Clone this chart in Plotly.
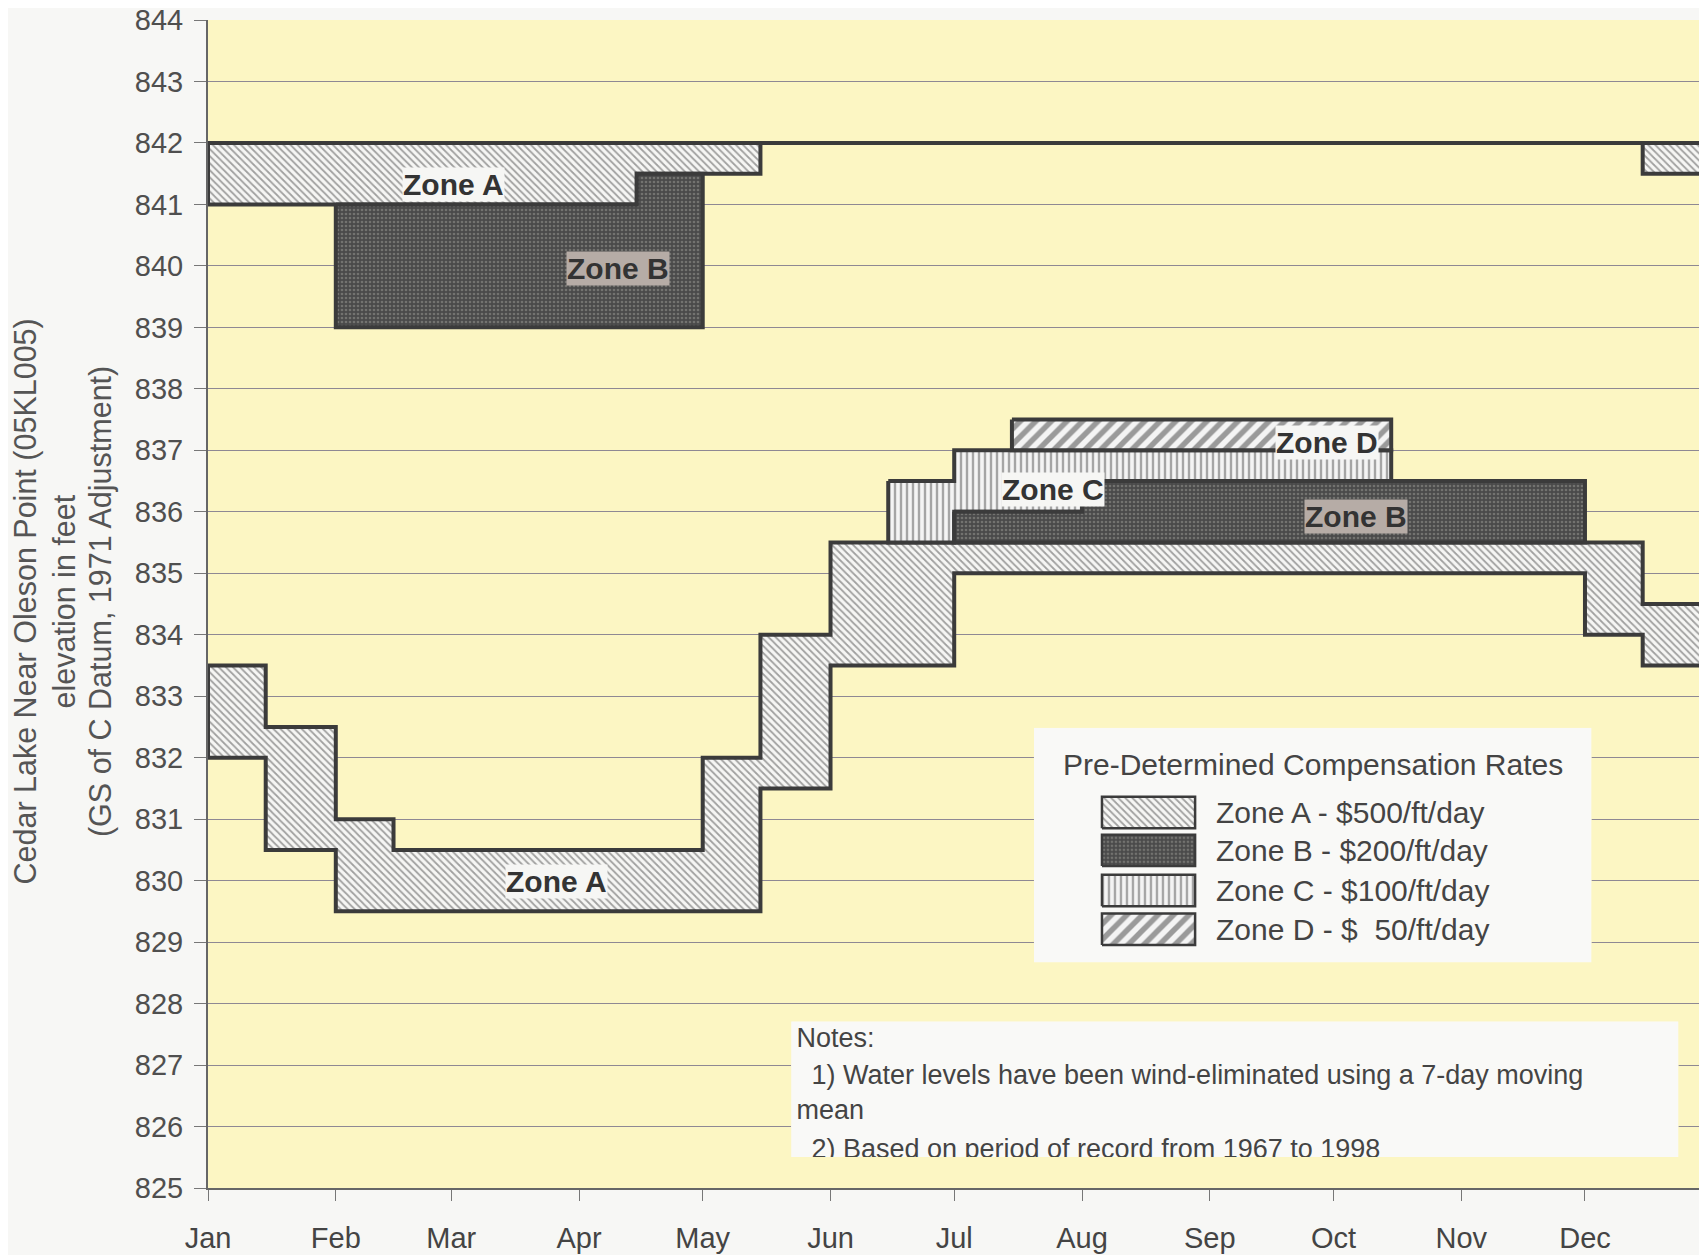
import plotly.graph_objects as go

# ---------------- data ----------------
MONTHS = ["Jan", "Feb", "Mar", "Apr", "May", "Jun", "Jul", "Aug", "Sep", "Oct", "Nov", "Dec"]
MONTH_START_DAY = [0, 31, 59, 90, 120, 151, 181, 212, 243, 273, 304, 334]
# half-month periods (1st and 15th of each month), day of year (0 = Jan 1)
PERIOD_START_DAY = [0, 14, 31, 45, 59, 73, 90, 104, 120, 134, 151, 165,
                    181, 195, 212, 226, 243, 257, 273, 287, 304, 318, 334, 348]
YEAR_END_DAY = 365
Y_TICKS = list(range(825, 845))

N = None
# high-water zones (ft)
high_a_bottom = [841, 841, 841, 841, 841, 841, 841, 841.5, 841.5] + [N] * 14 + [841.5]
high_a_top = [842] * 9 + [N] * 14 + [842]
high_b_bottom = [N, N, 839, 839, 839, 839, 839, 839] + [N] * 16
high_b_top = [N, N, 841, 841, 841, 841, 841, 841.5] + [N] * 16
upper_limit = [842] * 24

# low-water zones (ft)
low_a_bottom = [832, 830.5, 829.5, 829.5, 829.5, 829.5, 829.5, 829.5, 829.5, 831.5, 833.5, 833.5,
                835, 835, 835, 835, 835, 835, 835, 835, 835, 835, 834, 833.5]
low_a_top = [833.5, 832.5, 831, 830.5, 830.5, 830.5, 830.5, 830.5, 832, 834, 835.5, 835.5,
             835.5, 835.5, 835.5, 835.5, 835.5, 835.5, 835.5, 835.5, 835.5, 835.5, 835.5, 834.5]
low_b_bottom = [N] * 12 + [835.5] * 10 + [N, N]
low_b_top = [N] * 12 + [836, 836] + [836.5] * 8 + [N, N]
low_c_bottom = [N] * 11 + [835.5, 836, 836, 836.5, 836.5, 836.5, 836.5, 836.5] + [N] * 5
low_c_top = [N] * 11 + [836.5, 837, 837, 837, 837, 837, 837, 837] + [N] * 5
low_d_bottom = [N] * 13 + [837] * 6 + [N] * 5
low_d_top = [N] * 13 + [837.5] * 6 + [N] * 5

LEGEND_TITLE = "Pre-Determined Compensation Rates"
LEGEND_LABELS = ["Zone A - $500/ft/day", "Zone B - $200/ft/day",
                 "Zone C - $100/ft/day", "Zone D - $\u00a0\u00a050/ft/day"]
NOTES = ["Notes:",
         "\u00a0\u00a01) Water levels have been wind-eliminated using a 7-day moving",
         "mean",
         "\u00a0\u00a02) Based on period of record from 1967 to 1998"]
Y_TITLE_LINES = ["Cedar Lake Near Oleson Point (05KL005)", "elevation in feet",
                 "(GS of C Datum, 1971 Adjustment)"]

# ---------------- styles ----------------
OUTLINE = "#3b3b3b"
FONT = "Liberation Sans, Arial, Helvetica, sans-serif"
STYLE = {
    "A": dict(fillcolor="#f6f6f4", fillpattern=dict(shape="\\", size=5, solidity=0.35,
                                                    fgcolor="#4a4a4a", bgcolor="#f6f6f4")),
    "B": dict(fillcolor="#4a4a4a", fillpattern=dict(shape=".", size=4, solidity=0.35,
                                                    fgcolor="#9b9b96", bgcolor="#4a4a4a")),
    "C": dict(fillcolor="#f4f4f4", fillpattern=dict(shape="|", size=6, solidity=0.4,
                                                    fgcolor="#555555", bgcolor="#f4f4f4")),
    "D": dict(fillcolor="#f4f4f4", fillpattern=dict(shape="/", size=11, solidity=0.5,
                                                    fgcolor="#404040", bgcolor="#f4f4f4")),
}


def zone_path(lo, hi):
    """Closed step polygons (one per contiguous run of periods)."""
    xs, ys = [], []
    edges = PERIOD_START_DAY + [YEAR_END_DAY]
    i = 0
    n = len(lo)
    while i < n:
        if lo[i] is None:
            i += 1
            continue
        j = i
        while j + 1 < n and lo[j + 1] is not None:
            j += 1
        run = list(range(i, j + 1))
        px, py = [], []
        for k in run:
            px += [edges[k], edges[k + 1]]
            py += [hi[k], hi[k]]
        for k in reversed(run):
            px += [edges[k + 1], edges[k]]
            py += [lo[k], lo[k]]
        px.append(px[0])
        py.append(py[0])
        if xs:
            xs.append(None)
            ys.append(None)
        xs += px
        ys += py
        i = j + 1
    return xs, ys


fig = go.Figure()


def add_zone(lo, hi, key):
    x, y = zone_path(lo, hi)
    fig.add_trace(go.Scatter(x=x, y=y, mode="lines", fill="toself",
                             line=dict(color=OUTLINE, width=4),
                             hoverinfo="skip", showlegend=False, **STYLE[key]))


add_zone(high_a_bottom, high_a_top, "A")
add_zone(high_b_bottom, high_b_top, "B")
add_zone(low_a_bottom, low_a_top, "A")
add_zone(low_c_bottom, low_c_top, "C")
add_zone(low_d_bottom, low_d_top, "D")
add_zone(low_b_bottom, low_b_top, "B")

# upper limit line
edges_all = PERIOD_START_DAY + [YEAR_END_DAY]
ux, uy = [], []
for k, v in enumerate(upper_limit):
    ux += [edges_all[k], edges_all[k + 1]]
    uy += [v, v]
fig.add_trace(go.Scatter(x=ux, y=uy, mode="lines", line=dict(color=OUTLINE, width=4),
                         hoverinfo="skip", showlegend=False))

# zone labels
zone_labels = [
    ("Zone A", 59.5, 841.33, "#f6f6f4"),
    ("Zone B", 99.5, 839.95, "#b6aca6"),
    ("Zone A", 84.5, 829.98, "#f6f6f4"),
    ("Zone D", 271.5, 837.12, "#f6f6f4"),
    ("Zone C", 205, 836.36, "#f6f6f4"),
    ("Zone B", 278.5, 835.92, "#b6aca6"),
]
for txt, xd, yd, bg in zone_labels:
    fig.add_annotation(x=xd, y=yd, xref="x", yref="y", text=txt, showarrow=False,
                       bgcolor=bg, borderpad=0,
                       font=dict(family=FONT, size=30, color="#333333", weight="bold"))

# ---------------- legend box (subplot 2) ----------------
fig.add_trace(go.Scatter(x=[0, 1, 1, 0, 0], y=[0, 0, 1, 1, 0], xaxis="x2", yaxis="y2",
                         mode="lines", fill="toself", fillcolor="#f9f9f7",
                         line=dict(width=0), hoverinfo="skip", showlegend=False))
sw_x0, sw_x1 = 0.122, 0.289
row_top = [0.706, 0.545, 0.374, 0.209]
row_h = 0.134
for key, top, lab in zip(["A", "B", "C", "D"], row_top, LEGEND_LABELS):
    bot = top - row_h
    fig.add_trace(go.Scatter(x=[sw_x0, sw_x1, sw_x1, sw_x0, sw_x0], y=[bot, bot, top, top, bot],
                             xaxis="x2", yaxis="y2", mode="lines", fill="toself",
                             line=dict(color=OUTLINE, width=2.5), hoverinfo="skip",
                             showlegend=False, **STYLE[key]))
    fig.add_annotation(x=0.323, y=(top + bot) / 2, xref="x2", yref="y2", text=lab,
                       showarrow=False, xanchor="left", yanchor="middle",
                       font=dict(family=FONT, size=30, color="#444444"))
fig.add_annotation(x=0.5, y=0.843, xref="x2", yref="y2", text=LEGEND_TITLE, showarrow=False,
                   xanchor="center", yanchor="middle", font=dict(family=FONT, size=30, color="#444444"))

# ---------------- notes box (subplot 3) ----------------
fig.add_trace(go.Scatter(x=[0, 1, 1, 0, 0], y=[0, 0, 1, 1, 0], xaxis="x3", yaxis="y3",
                         mode="lines", fill="toself", fillcolor="#f9f9f7",
                         line=dict(width=0), hoverinfo="skip", showlegend=False))
fig.add_trace(go.Scatter(x=[0.006] * 4, y=[0.86, 0.59, 0.33, 0.045], xaxis="x3", yaxis="y3",
                         mode="text", text=NOTES, textposition="middle right",
                         textfont=dict(family=FONT, size=27, color="#444444"),
                         cliponaxis=True, hoverinfo="skip", showlegend=False))

# y-axis title (three lines)
for txt, xp in zip(Y_TITLE_LINES, [-0.1215, -0.0962, -0.0718]):
    fig.add_annotation(x=xp, y=0.502, xref="paper", yref="paper", text=txt,
                       showarrow=False, textangle=-90, xanchor="center", yanchor="middle",
                       font=dict(family=FONT, size=30.5, color="#555555"))

fig.update_layout(
    width=1699, height=1247,
    margin=dict(l=200, r=0, t=12, b=67, autoexpand=False),
    paper_bgcolor="#f7f7f5", plot_bgcolor="#fcf6c3",
    showlegend=False,
    xaxis=dict(range=[0, 363.6], domain=[0, 1], tickmode="array", tickvals=MONTH_START_DAY,
               ticktext=MONTHS, ticks="outside", ticklen=11, tickcolor="#777777", automargin=False,
               showgrid=False, zeroline=False, showline=True, linecolor="#666666", linewidth=2,
               tickfont=dict(family=FONT, size=29, color="#444444"), ticklabelstandoff=12),
    yaxis=dict(range=[825, 844], domain=[0, 1], tickmode="array", tickvals=Y_TICKS,
               ticks="outside", ticklen=12, tickcolor="#777777", automargin=False,
               showgrid=True, gridcolor="#8e8893", gridwidth=1, zeroline=False,
               showline=True, linecolor="#666666", linewidth=2, ticklabeloverflow="allow",
               tickfont=dict(family=FONT, size=29, color="#4f4f4f"), ticklabelstandoff=5),
    xaxis2=dict(domain=[0.551, 0.923], anchor="y2", range=[0, 1], visible=False, fixedrange=True),
    yaxis2=dict(domain=[0.193, 0.394], anchor="x2", range=[0, 1], visible=False, fixedrange=True),
    xaxis3=dict(domain=[0.389, 0.981], anchor="y3", range=[0, 1], visible=False, fixedrange=True),
    yaxis3=dict(domain=[0.0265, 0.1428], anchor="x3", range=[0, 1], visible=False, fixedrange=True),
)

fig.write_html("out.html")
